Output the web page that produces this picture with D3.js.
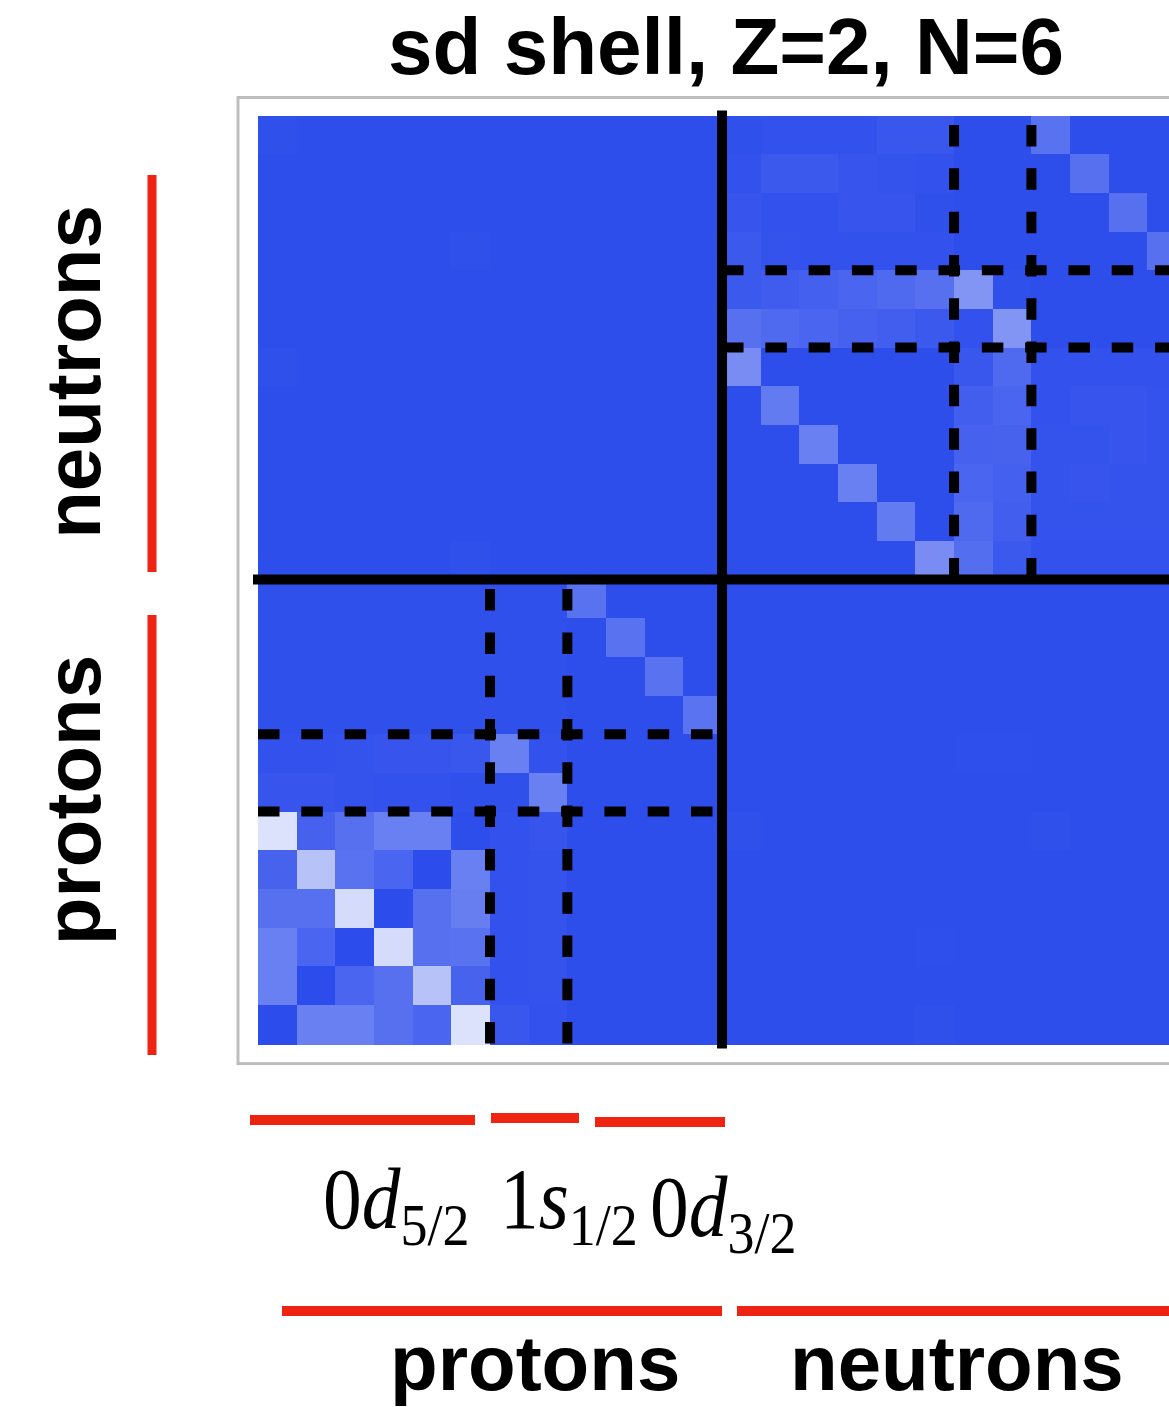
<!DOCTYPE html>
<html><head><meta charset="utf-8">
<script src="https://cdn.jsdelivr.net/npm/d3@7"></script>
<style>html,body{margin:0;padding:0;background:#fff;overflow:hidden;} svg{display:block;}</style>
</head><body>
<svg id="chart" width="1169" height="1407"></svg>
<script>
// ---------- data ----------
const chartTitle = "sd shell, Z=2, N=6";
const speciesNames = ["protons", "neutrons"];
const orbitalPrefix = ["0", "1", "0"];
const orbitalLetter = ["d", "s", "d"];
const orbitalSub = ["5/2", "1/2", "3/2"];
const orbitalSize = [6, 2, 4];

// matrix rows listed top -> bottom (neutron 0d3/2 ... proton 0d5/2), columns left -> right
const neutronRows = [
  [0.02,0.01,0.01,0.01,0.01,0.01,0.01,0.01,0.01,0.01,0.01,0.01, 0.02,0.03,0.03,0.03,0.06,0.06, 0.01,0.01, 0.21,0.01,0.01,0.01],
  [0.01,0.01,0.01,0.01,0.01,0.01,0.01,0.01,0.01,0.01,0.01,0.01, 0.03,0.07,0.07,0.05,0.04,0.03, 0.01,0.01, 0.01,0.20,0.01,0.01],
  [0.01,0.01,0.01,0.01,0.01,0.01,0.01,0.01,0.01,0.01,0.01,0.01, 0.05,0.03,0.03,0.05,0.05,0.02, 0.01,0.01, 0.01,0.01,0.20,0.01],
  [0.01,0.01,0.01,0.01,0.01,0.02,0.01,0.01,0.01,0.01,0.01,0.01, 0.07,0.04,0.03,0.03,0.03,0.03, 0.01,0.01, 0.01,0.01,0.01,0.20],
  [0.01,0.01,0.01,0.01,0.01,0.01,0.01,0.01,0.01,0.01,0.01,0.01, 0.07,0.09,0.11,0.14,0.17,0.20, 0.41,0.02, 0.01,0.01,0.01,0.01],
  [0.01,0.01,0.01,0.01,0.01,0.01,0.01,0.01,0.01,0.01,0.01,0.01, 0.20,0.17,0.14,0.12,0.10,0.07, 0.03,0.41, 0.01,0.01,0.01,0.01],
  [0.02,0.01,0.01,0.01,0.01,0.01,0.01,0.01,0.01,0.01,0.01,0.01, 0.36,0.01,0.01,0.01,0.01,0.01, 0.06,0.17, 0.03,0.03,0.03,0.03],
  [0.01,0.01,0.01,0.01,0.01,0.01,0.01,0.01,0.01,0.01,0.01,0.01, 0.01,0.26,0.01,0.01,0.01,0.01, 0.10,0.14, 0.03,0.05,0.05,0.04],
  [0.01,0.01,0.01,0.01,0.01,0.01,0.01,0.01,0.01,0.01,0.01,0.01, 0.01,0.01,0.29,0.01,0.01,0.01, 0.12,0.13, 0.04,0.04,0.05,0.04],
  [0.01,0.01,0.01,0.01,0.01,0.01,0.01,0.01,0.01,0.01,0.01,0.01, 0.01,0.01,0.01,0.29,0.01,0.01, 0.14,0.11, 0.04,0.05,0.04,0.04],
  [0.01,0.01,0.01,0.01,0.01,0.01,0.01,0.01,0.01,0.01,0.01,0.01, 0.01,0.01,0.01,0.01,0.26,0.01, 0.17,0.10, 0.04,0.04,0.04,0.04],
  [0.01,0.01,0.01,0.01,0.01,0.02,0.01,0.01,0.01,0.01,0.01,0.01, 0.01,0.01,0.01,0.01,0.01,0.36, 0.19,0.07, 0.03,0.03,0.03,0.03]
];
const protonRows = [
  [0.02,0.02,0.02,0.02,0.02,0.02,0.02,0.02, 0.21,0.01,0.01,0.01, 0.01,0.01,0.01,0.01,0.01,0.01,0.01,0.01,0.01,0.01,0.01,0.01],
  [0.02,0.02,0.02,0.02,0.02,0.02,0.02,0.02, 0.01,0.21,0.01,0.01, 0.01,0.01,0.01,0.01,0.01,0.01,0.01,0.01,0.01,0.01,0.01,0.01],
  [0.02,0.02,0.02,0.02,0.02,0.02,0.02,0.02, 0.01,0.01,0.21,0.01, 0.01,0.01,0.01,0.01,0.01,0.01,0.01,0.01,0.01,0.01,0.01,0.01],
  [0.02,0.02,0.02,0.02,0.02,0.02,0.02,0.02, 0.01,0.01,0.01,0.22, 0.01,0.01,0.01,0.01,0.01,0.01,0.01,0.01,0.01,0.01,0.01,0.01],
  [0.03,0.03,0.04,0.05,0.05,0.06, 0.29,0.03, 0.01,0.01,0.01,0.01, 0.01,0.01,0.01,0.01,0.01,0.01,0.015,0.015,0.01,0.01,0.01,0.01],
  [0.05,0.05,0.04,0.03,0.03,0.02, 0.02,0.29, 0.01,0.01,0.01,0.01, 0.01,0.01,0.01,0.01,0.01,0.01,0.01,0.01,0.01,0.01,0.01,0.01],
  [0.84,0.12,0.20,0.29,0.29,0.01, 0.03,0.05, 0.01,0.01,0.01,0.01, 0.02,0.01,0.01,0.01,0.01,0.01,0.01,0.01,0.02,0.01,0.01,0.01],
  [0.13,0.66,0.21,0.14,0.00,0.29, 0.03,0.04, 0.01,0.01,0.01,0.01, 0.01,0.01,0.01,0.01,0.01,0.01,0.01,0.01,0.01,0.01,0.01,0.01],
  [0.20,0.20,0.80,0.00,0.20,0.28, 0.03,0.04, 0.01,0.01,0.01,0.01, 0.01,0.01,0.01,0.01,0.01,0.01,0.01,0.01,0.01,0.01,0.01,0.01],
  [0.29,0.14,0.00,0.80,0.20,0.21, 0.03,0.04, 0.01,0.01,0.01,0.01, 0.01,0.01,0.01,0.01,0.01,0.015,0.01,0.01,0.01,0.01,0.01,0.01],
  [0.29,0.00,0.14,0.20,0.66,0.13, 0.03,0.04, 0.01,0.01,0.01,0.01, 0.01,0.01,0.01,0.01,0.01,0.01,0.01,0.01,0.01,0.01,0.01,0.01],
  [0.00,0.29,0.29,0.20,0.14,0.84, 0.06,0.03, 0.01,0.01,0.01,0.01, 0.01,0.01,0.01,0.01,0.01,0.02,0.01,0.01,0.01,0.01,0.01,0.01]
];

(function draw() {
  // ---------- derived ----------
  const matrixRows = neutronRows.concat(protonRows); // top -> bottom
  const nPerSpecies = d3.sum(orbitalSize);
  const nStates = nPerSpecies * speciesNames.length;
  const states = d3.range(nStates);
  const orbitalStart = orbitalSize.map((s, i) => d3.sum(orbitalSize.slice(0, i)));

  const cells = [];
  matrixRows.forEach((row, r) => row.forEach((v, c) => cells.push({ys: nStates - 1 - r, xs: c, v})));

  // ---------- layout ----------
  const svg = d3.select("#chart");
  const mLeft = 258, mTop = 115.5, cell = 38.67;
  const x = d3.scaleBand().domain(states).range([mLeft, mLeft + nStates * cell]).padding(0);
  const y = d3.scaleBand().domain(states).range([mTop + nStates * cell, mTop]).padding(0);
  const color = d3.scaleLinear().domain([0, 1]).range(["#2c4cec", "#ffffff"]).interpolate(d3.interpolateRgb);

  const edgeX = i => (i >= nStates ? x(nStates - 1) + x.bandwidth() : x(i));
  const edgeYBelow = i => y(i) + y.bandwidth(); // lower screen edge of state i

  // frame
  svg.append("rect")
    .attr("x", mLeft - 20).attr("y", mTop - 18)
    .attr("width", nStates * cell + 40).attr("height", nStates * cell + 38)
    .attr("fill", "#fff").attr("stroke", "#bdbdbd").attr("stroke-width", 3);

  // cells
  svg.append("g").attr("shape-rendering", "crispEdges").selectAll("rect").data(cells).join("rect")
    .attr("x", d => x(d.xs)).attr("y", d => y(d.ys))
    .attr("width", x.bandwidth() + 1).attr("height", y.bandwidth() + 1)
    .attr("fill", d => color(d.v));

  // dashed orbital separators inside each diagonal block
  const dashG = svg.append("g").attr("stroke", "#000").attr("stroke-width", 10)
    .attr("stroke-dasharray", "21.5,21.8").attr("fill", "none");
  speciesNames.forEach((sp, si) => {
    const base = si * nPerSpecies;
    const bx0 = edgeX(base), bx1 = edgeX(base + nPerSpecies);
    const byBottom = edgeYBelow(base), byTop = y(base + nPerSpecies - 1);
    orbitalStart.slice(1).forEach(s => {
      const xv = edgeX(base + s);
      dashG.append("line").attr("x1", xv).attr("x2", xv).attr("y1", byBottom).attr("y2", byTop);
      const yh = edgeYBelow(base + s);
      dashG.append("line").attr("x1", bx0).attr("x2", bx1).attr("y1", yh).attr("y2", yh);
    });
  });

  // solid species separators
  const midX = edgeX(nPerSpecies), midY = edgeYBelow(nPerSpecies);
  svg.append("line").attr("x1", midX).attr("x2", midX).attr("y1", mTop - 5).attr("y2", mTop + nStates * cell + 5)
    .attr("stroke", "#000").attr("stroke-width", 10);
  svg.append("line").attr("x1", mLeft - 5).attr("x2", mLeft + nStates * cell + 5).attr("y1", midY).attr("y2", midY)
    .attr("stroke", "#000").attr("stroke-width", 10);

  // title
  svg.append("text").attr("x", 726).attr("y", 74).attr("text-anchor", "middle")
    .attr("font-family", "Liberation Sans, Arial, sans-serif").attr("font-weight", "bold").attr("font-size", 80)
    .text(chartTitle);

  const red = "#ee2312";
  const labelFont = "Liberation Sans, Arial, sans-serif";

  // left species labels + red bars
  const leftBars = [[175, 572], [615, 1055]]; // neutrons, protons (screen y)
  const leftLabelY = [372, 800];
  ["neutrons", "protons"].forEach((name, i) => {
    const [y0, y1] = leftBars[i];
    svg.append("line").attr("x1", 152).attr("x2", 152).attr("y1", y0).attr("y2", y1)
      .attr("stroke", red).attr("stroke-width", 9);
    svg.append("text").attr("transform", `translate(100,${leftLabelY[i]}) rotate(-90)`).attr("text-anchor", "middle")
      .attr("font-family", labelFont).attr("font-weight", "bold").attr("font-size", 78).text(name);
  });

  // orbital red bars and labels (proton side)
  const orbBars = [[250, 475, 1120], [491, 579, 1118], [595, 725, 1122]];
  const orbLabelX = [323, 500, 650];
  const orbLabelY = [1228, 1228, 1236];
  orbitalSize.forEach((s, i) => {
    const [a, b, yy] = orbBars[i];
    svg.append("line").attr("x1", a).attr("x2", b).attr("y1", yy).attr("y2", yy).attr("stroke", red).attr("stroke-width", 10);
    const t = svg.append("text").attr("transform", `translate(${orbLabelX[i]},${orbLabelY[i]}) scale(0.9,1)`)
      .attr("font-family", "Liberation Serif, Times New Roman, serif").attr("font-size", 86);
    t.append("tspan").text(orbitalPrefix[i]);
    t.append("tspan").attr("font-style", "italic").text(orbitalLetter[i]);
    t.append("tspan").attr("font-size", 60).attr("dy", 17).text(orbitalSub[i]);
  });

  // bottom species bars + labels
  const botBars = [[282, 722], [737, 1175]];
  const botLabelX = [390, 790];
  speciesNames.forEach((name, i) => {
    svg.append("line").attr("x1", botBars[i][0]).attr("x2", botBars[i][1]).attr("y1", 1311).attr("y2", 1311)
      .attr("stroke", red).attr("stroke-width", 10);
    svg.append("text").attr("x", botLabelX[i]).attr("y", 1390)
      .attr("font-family", labelFont).attr("font-weight", "bold").attr("font-size", 78).text(name);
  });
})();
</script>
</body></html>
